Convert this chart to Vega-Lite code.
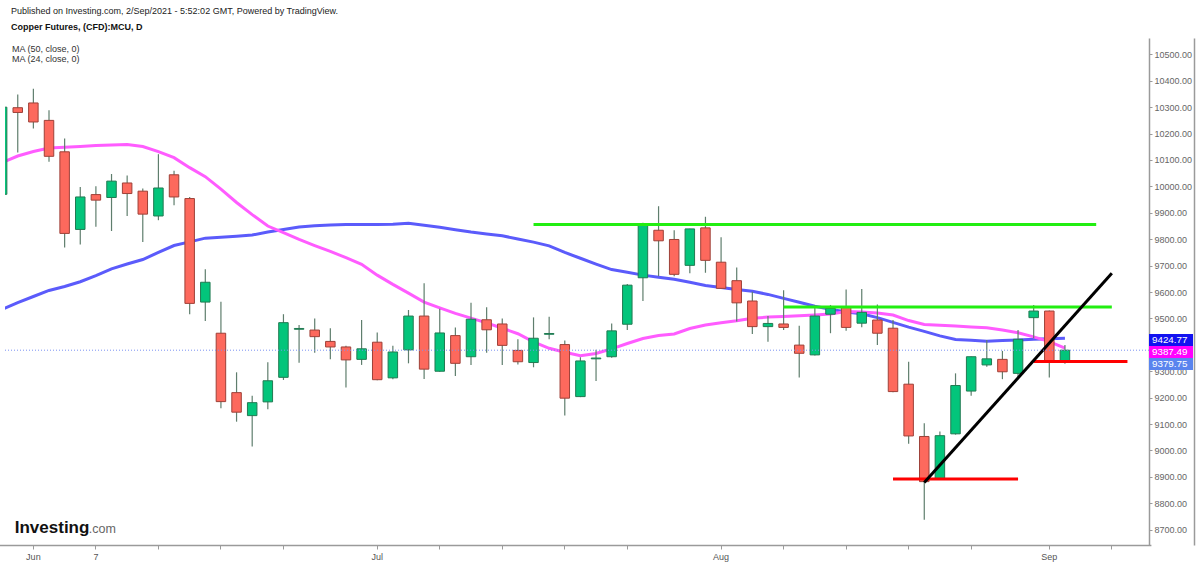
{
  "$schema": "https://vega.github.io/schema/vega-lite/v6.json",
  "width": 1144,
  "height": 507,
  "autosize": {"type": "none"},
  "padding": {"left": 5, "top": 38, "right": 51, "bottom": 21},
  "background": "white",
  "config": {
    "view": {"stroke": null},
    "font": "Liberation Sans",
    "axisY": {"labelOverlap": false, "labelFont": "Liberation Sans", "labelFontSize": 9, "labelColor": "#666", "tickColor": "#9a9a9a", "tickSize": 3, "domainColor": "#9a9a9a", "domainWidth": 1.5, "labelPadding": 2, "grid": false}
  },
  "title": {
    "text": "Published on Investing.com, 2/Sep/2021 - 5:52:02 GMT, Powered by TradingView.",
    "subtitle": "Copper Futures, (CFD):MCU, D",
    "anchor": "start", "frame": "group", "orient": "top", "offset": 6, "dx": 6,
    "font": "Liberation Sans", "fontSize": 9, "fontWeight": "normal", "color": "#222",
    "subtitleFont": "Liberation Sans", "subtitleFontSize": 9, "subtitleFontWeight": "bold", "subtitleColor": "#111", "subtitlePadding": 7
  },
  "datasets": {
    "candles": [
      {"date":"2021-05-27","open":9970,"high":10330,"low":9950,"close":10300,"ma50":9534,"ma24":10090},
      {"date":"2021-05-28","open":10298,"high":10348,"low":10128,"close":10280,"ma50":9560,"ma24":10115},
      {"date":"2021-06-01","open":10316,"high":10370,"low":10219,"close":10244,"ma50":9583,"ma24":10132},
      {"date":"2021-06-02","open":10250,"high":10288,"low":10093,"close":10114,"ma50":9606,"ma24":10145},
      {"date":"2021-06-03","open":10131,"high":10181,"low":9769,"close":9822,"ma50":9621,"ma24":10148},
      {"date":"2021-06-04","open":9837,"high":9998,"low":9780,"close":9960,"ma50":9639,"ma24":10151},
      {"date":"2021-06-07","open":9969,"high":10001,"low":9847,"close":9948,"ma50":9662,"ma24":10155},
      {"date":"2021-06-08","open":9958,"high":10047,"low":9831,"close":10020,"ma50":9688,"ma24":10157},
      {"date":"2021-06-09","open":10013,"high":10041,"low":9888,"close":9973,"ma50":9706,"ma24":10159},
      {"date":"2021-06-10","open":9982,"high":9992,"low":9789,"close":9895,"ma50":9723,"ma24":10151},
      {"date":"2021-06-11","open":9888,"high":10122,"low":9872,"close":9994,"ma50":9750,"ma24":10132},
      {"date":"2021-06-14","open":10044,"high":10059,"low":9929,"close":9960,"ma50":9776,"ma24":10109},
      {"date":"2021-06-15","open":9954,"high":9960,"low":9516,"close":9557,"ma50":9790,"ma24":10071},
      {"date":"2021-06-16","open":9562,"high":9686,"low":9490,"close":9637,"ma50":9804,"ma24":10037},
      {"date":"2021-06-17","open":9444,"high":9563,"low":9160,"close":9185,"ma50":9807,"ma24":9990},
      {"date":"2021-06-18","open":9219,"high":9296,"low":9109,"close":9145,"ma50":9811,"ma24":9939},
      {"date":"2021-06-21","open":9132,"high":9207,"low":9015,"close":9181,"ma50":9816,"ma24":9893},
      {"date":"2021-06-22","open":9184,"high":9334,"low":9156,"close":9264,"ma50":9827,"ma24":9850},
      {"date":"2021-06-23","open":9277,"high":9516,"low":9267,"close":9484,"ma50":9837,"ma24":9825},
      {"date":"2021-06-24","open":9459,"high":9475,"low":9332,"close":9462,"ma50":9846,"ma24":9799},
      {"date":"2021-06-25","open":9456,"high":9500,"low":9370,"close":9431,"ma50":9851,"ma24":9776},
      {"date":"2021-06-28","open":9413,"high":9463,"low":9345,"close":9392,"ma50":9854,"ma24":9754},
      {"date":"2021-06-29","open":9392,"high":9397,"low":9238,"close":9343,"ma50":9856,"ma24":9730},
      {"date":"2021-06-30","open":9345,"high":9494,"low":9324,"close":9385,"ma50":9856,"ma24":9705},
      {"date":"2021-07-01","open":9410,"high":9447,"low":9266,"close":9268,"ma50":9856,"ma24":9664},
      {"date":"2021-07-02","open":9275,"high":9397,"low":9270,"close":9373,"ma50":9857,"ma24":9629},
      {"date":"2021-07-05","open":9381,"high":9532,"low":9330,"close":9509,"ma50":9860,"ma24":9596},
      {"date":"2021-07-06","open":9509,"high":9633,"low":9271,"close":9308,"ma50":9853,"ma24":9562},
      {"date":"2021-07-07","open":9300,"high":9537,"low":9298,"close":9445,"ma50":9845,"ma24":9540},
      {"date":"2021-07-08","open":9435,"high":9466,"low":9282,"close":9330,"ma50":9836,"ma24":9519},
      {"date":"2021-07-09","open":9355,"high":9559,"low":9324,"close":9497,"ma50":9827,"ma24":9501},
      {"date":"2021-07-12","open":9495,"high":9542,"low":9370,"close":9457,"ma50":9820,"ma24":9483},
      {"date":"2021-07-13","open":9479,"high":9500,"low":9324,"close":9398,"ma50":9813,"ma24":9463},
      {"date":"2021-07-14","open":9379,"high":9421,"low":9326,"close":9336,"ma50":9801,"ma24":9442},
      {"date":"2021-07-15","open":9333,"high":9504,"low":9315,"close":9425,"ma50":9789,"ma24":9411},
      {"date":"2021-07-16","open":9440,"high":9506,"low":9421,"close":9443,"ma50":9775,"ma24":9387},
      {"date":"2021-07-19","open":9401,"high":9416,"low":9132,"close":9198,"ma50":9750,"ma24":9372},
      {"date":"2021-07-20","open":9204,"high":9353,"low":9202,"close":9339,"ma50":9728,"ma24":9359},
      {"date":"2021-07-21","open":9347,"high":9381,"low":9263,"close":9350,"ma50":9706,"ma24":9367},
      {"date":"2021-07-22","open":9355,"high":9481,"low":9351,"close":9453,"ma50":9685,"ma24":9385},
      {"date":"2021-07-23","open":9478,"high":9630,"low":9456,"close":9626,"ma50":9675,"ma24":9405},
      {"date":"2021-07-26","open":9654,"high":9862,"low":9566,"close":9853,"ma50":9664,"ma24":9424},
      {"date":"2021-07-27","open":9834,"high":9925,"low":9660,"close":9794,"ma50":9656,"ma24":9435},
      {"date":"2021-07-28","open":9799,"high":9834,"low":9660,"close":9667,"ma50":9648,"ma24":9441},
      {"date":"2021-07-29","open":9701,"high":9840,"low":9671,"close":9839,"ma50":9637,"ma24":9462},
      {"date":"2021-07-30","open":9843,"high":9885,"low":9673,"close":9720,"ma50":9625,"ma24":9475},
      {"date":"2021-08-02","open":9713,"high":9807,"low":9612,"close":9614,"ma50":9617,"ma24":9484},
      {"date":"2021-08-03","open":9643,"high":9693,"low":9488,"close":9559,"ma50":9610,"ma24":9491},
      {"date":"2021-08-04","open":9566,"high":9601,"low":9441,"close":9469,"ma50":9603,"ma24":9501},
      {"date":"2021-08-05","open":9469,"high":9509,"low":9412,"close":9481,"ma50":9591,"ma24":9505},
      {"date":"2021-08-06","open":9479,"high":9607,"low":9456,"close":9466,"ma50":9576,"ma24":9507},
      {"date":"2021-08-09","open":9399,"high":9472,"low":9276,"close":9368,"ma50":9561,"ma24":9510},
      {"date":"2021-08-10","open":9362,"high":9551,"low":9360,"close":9509,"ma50":9546,"ma24":9513},
      {"date":"2021-08-11","open":9516,"high":9551,"low":9444,"close":9538,"ma50":9535,"ma24":9517},
      {"date":"2021-08-12","open":9542,"high":9610,"low":9453,"close":9466,"ma50":9524,"ma24":9526},
      {"date":"2021-08-13","open":9482,"high":9611,"low":9467,"close":9523,"ma50":9518,"ma24":9524},
      {"date":"2021-08-16","open":9494,"high":9553,"low":9399,"close":9444,"ma50":9503,"ma24":9521},
      {"date":"2021-08-17","open":9463,"high":9494,"low":9220,"close":9223,"ma50":9485,"ma24":9513},
      {"date":"2021-08-18","open":9251,"high":9336,"low":9025,"close":9055,"ma50":9467,"ma24":9492},
      {"date":"2021-08-19","open":9053,"high":9103,"low":8738,"close":8882,"ma50":9451,"ma24":9477},
      {"date":"2021-08-20","open":8893,"high":9072,"low":8890,"close":9056,"ma50":9434,"ma24":9474},
      {"date":"2021-08-23","open":9063,"high":9292,"low":9060,"close":9246,"ma50":9420,"ma24":9471},
      {"date":"2021-08-24","open":9225,"high":9356,"low":9207,"close":9355,"ma50":9417,"ma24":9468},
      {"date":"2021-08-25","open":9324,"high":9418,"low":9317,"close":9347,"ma50":9414,"ma24":9465},
      {"date":"2021-08-26","open":9345,"high":9377,"low":9270,"close":9298,"ma50":9416,"ma24":9456},
      {"date":"2021-08-27","open":9292,"high":9456,"low":9277,"close":9421,"ma50":9418,"ma24":9446},
      {"date":"2021-08-31","open":9503,"high":9551,"low":9425,"close":9528,"ma50":9421,"ma24":9430},
      {"date":"2021-09-01","open":9528,"high":9530,"low":9276,"close":9339,"ma50":9423,"ma24":9412},
      {"date":"2021-09-02","open":9339,"high":9399,"low":9328,"close":9379.75,"ma50":9424.77,"ma24":9387.49}
    ]
  },
  "layer": [
    {
      "encoding": {
        "x": {
          "field": "date", "type": "ordinal", "title": null,
          "scale": {
            "type": "band",
            "domain": ["2021-05-27","2021-05-28","2021-06-01","2021-06-02","2021-06-03","2021-06-04","2021-06-07","2021-06-08","2021-06-09","2021-06-10","2021-06-11","2021-06-14","2021-06-15","2021-06-16","2021-06-17","2021-06-18","2021-06-21","2021-06-22","2021-06-23","2021-06-24","2021-06-25","2021-06-28","2021-06-29","2021-06-30","2021-07-01","2021-07-02","2021-07-05","2021-07-06","2021-07-07","2021-07-08","2021-07-09","2021-07-12","2021-07-13","2021-07-14","2021-07-15","2021-07-16","2021-07-19","2021-07-20","2021-07-21","2021-07-22","2021-07-23","2021-07-26","2021-07-27","2021-07-28","2021-07-29","2021-07-30","2021-08-02","2021-08-03","2021-08-04","2021-08-05","2021-08-06","2021-08-09","2021-08-10","2021-08-11","2021-08-12","2021-08-13","2021-08-16","2021-08-17","2021-08-18","2021-08-19","2021-08-20","2021-08-23","2021-08-24","2021-08-25","2021-08-26","2021-08-27","2021-08-31","2021-09-01","2021-09-02","2021-09-03","2021-09-06","2021-09-07","2021-09-08","2021-09-09"],
            "range": [-10.7, 1145.9],
            "paddingInner": 0, "paddingOuter": 0
          },
          "axis": {
            "values": ["2021-06-01","2021-06-07","2021-06-11","2021-06-17","2021-06-23","2021-07-01","2021-07-07","2021-07-13","2021-07-19","2021-07-23","2021-08-02","2021-08-06","2021-08-12","2021-08-18","2021-08-24","2021-09-01","2021-09-07"],
            "labelExpr": "datum.value == '2021-06-01' ? 'Jun' : datum.value == '2021-06-07' ? '7' : datum.value == '2021-07-01' ? 'Jul' : datum.value == '2021-08-02' ? 'Aug' : datum.value == '2021-09-01' ? 'Sep' : ''",
            "bandPosition": 0.5, "domainColor": "#9a9a9a", "domainWidth": 1.5,
            "tickColor": "#9a9a9a", "tickSize": 4, "tickWidth": 1,
            "labelFont": "Liberation Sans", "labelFontSize": 9, "labelColor": "#555",
            "labelPadding": 3, "labelAngle": 0, "labelOverlap": false, "grid": false,
            "labelBound": false, "labelFlush": false
          }
        },
        "y": {
          "field": "low", "type": "quantitative", "title": null,
          "scale": {"domain": [8642, 10562], "nice": false, "zero": false},
          "axis": {
            "orient": "right",
            "values": [8700,8800,8900,9000,9100,9200,9300,9400,9500,9600,9700,9800,9900,10000,10100,10200,10300,10400,10500],
            "format": ".2f", "labelOverlap": false,
            "labelExpr": "datum.value == 9400 ? '' : datum.label"
          }
        }
      },
      "layer": [
        {
          "data": {"name": "candles"},
          "transform": [{"fold": ["ma50", "ma24"], "as": ["ma", "value"]}],
          "mark": {"type": "line", "strokeWidth": 3, "clip": true},
          "encoding": {
            "y": {"field": "value", "type": "quantitative"},
            "color": {
              "field": "ma", "type": "nominal",
              "scale": {"domain": ["ma50", "ma24"], "range": ["#5b5bfb", "#ff5cff"]},
              "legend": {
                "title": null, "orient": "top-left", "offset": 6, "padding": 0,
                "symbolSize": 0, "symbolOpacity": 0, "symbolStrokeWidth": 0,
                "labelFont": "Liberation Sans", "labelFontSize": 9, "labelColor": "#333",
                "labelOffset": -8, "rowPadding": 0,
                "labelExpr": "datum.value == 'ma50' ? 'MA (50, close, 0)' : 'MA (24, close, 0)'"
              }
            },
            "detail": {"field": "ma"}
          }
        },
        {
          "data": {"name": "candles"},
          "mark": {"type": "rule", "color": "#5f7e6d", "strokeWidth": 1.2, "clip": true},
          "encoding": {
            "y2": {"field": "high"}
          }
        },
        {
          "data": {"name": "candles"},
          "mark": {"type": "bar", "width": 9.5, "strokeWidth": 1, "clip": true},
          "encoding": {
            "y": {"field": "open", "type": "quantitative"},
            "y2": {"field": "close"},
            "fill": {"condition": {"test": "datum.close > datum.open", "value": "#03c57b"}, "value": "#fd695d"},
            "stroke": {"condition": {"test": "datum.close > datum.open", "value": "#227a52"}, "value": "#9e4038"}
          }
        },
        {
          "data": {"values": [
            {"date": "2021-07-15", "end": "2021-09-06", "price": 9856},
            {"date": "2021-08-06", "end": "2021-09-07", "price": 9543}
          ]},
          "mark": {"type": "rule", "color": "#22ee11", "strokeWidth": 3},
          "encoding": {
            "x2": {"field": "end"},
            "y": {"field": "price", "type": "quantitative"}
          }
        },
        {
          "data": {"values": [
            {"date": "2021-08-17", "end": "2021-08-27", "price": 8892},
            {"date": "2021-08-31", "end": "2021-09-08", "price": 9337}
          ]},
          "mark": {"type": "rule", "color": "#ff0000", "strokeWidth": 3},
          "encoding": {
            "x2": {"field": "end"},
            "y": {"field": "price", "type": "quantitative"}
          }
        },
        {
          "data": {"values": [
            {"date": "2021-08-19", "end": "2021-09-07", "price": 8879, "price2": 9671}
          ]},
          "mark": {"type": "rule", "color": "#000000", "strokeWidth": 3},
          "encoding": {
            "x2": {"field": "end"},
            "y": {"field": "price", "type": "quantitative"},
            "y2": {"field": "price2"}
          }
        },
        {
          "data": {"values": [{"date": "2021-05-28", "price": 8687, "text": "Investing"}]},
          "mark": {"type": "text", "align": "left", "baseline": "alphabetic", "dx": -3, "font": "Liberation Sans", "fontWeight": "bold", "fontSize": 17, "color": "#111"},
          "encoding": {
            "y": {"field": "price", "type": "quantitative"},
            "text": {"field": "text"}
          }
        },
        {
          "data": {"values": [{"date": "2021-05-28", "price": 8687, "text": ".com"}]},
          "mark": {"type": "text", "align": "left", "baseline": "alphabetic", "dx": 71, "font": "Liberation Sans", "fontSize": 12.5, "color": "#666"},
          "encoding": {
            "y": {"field": "price", "type": "quantitative"},
            "text": {"field": "text"}
          }
        }
      ]
    },
    {
      "encoding": {
        "y": {
          "field": "price", "type": "quantitative", "title": null,
          "scale": {"domain": [8642, 10562], "nice": false, "zero": false},
          "axis": {"orient": "right", "offset": 45, "labels": false, "ticks": false}
        }
      },
      "layer": [
        {
          "data": {"values": [{"price": 9379.75}]},
          "mark": {"type": "rule", "color": "#7a92f2", "strokeWidth": 1, "strokeDash": [1, 2]}
        },
        {
          "data": {"values": [{"price": 9424.77, "label": "9424.77"}]},
          "mark": {"type": "point", "shape": "M0,-0.1955L2,-0.1955L2,0.35L0,0.35Z", "size": 1936, "filled": true, "opacity": 1, "strokeWidth": 0, "color": "#1212f0", "clip": false},
          "encoding": {"x": {"value": "width"}}
        },
        {
          "data": {"values": [{"price": 9387.49, "label": "9387.49"}]},
          "mark": {"type": "point", "shape": "M0,-0.0955L2,-0.0955L2,0.45L0,0.45Z", "size": 1936, "filled": true, "opacity": 1, "strokeWidth": 0, "color": "#ff00ff", "clip": false},
          "encoding": {"x": {"value": "width"}}
        },
        {
          "data": {"values": [{"price": 9379.75, "label": "9379.75"}]},
          "mark": {"type": "point", "shape": "M0,0.3545L2,0.3545L2,0.9L0,0.9Z", "size": 1936, "filled": true, "opacity": 1, "strokeWidth": 0, "color": "#5a84ee", "clip": false},
          "encoding": {"x": {"value": "width"}}
        },
        {
          "data": {"values": [{"price": 9424.77, "label": "9424.77"}]},
          "mark": {"type": "text", "align": "left", "baseline": "middle", "dx": 3, "dy": 1.7, "fontSize": 9.8, "font": "Liberation Sans", "color": "white"},
          "encoding": {"x": {"value": "width"}, "text": {"field": "label"}}
        },
        {
          "data": {"values": [{"price": 9387.49, "label": "9387.49"}]},
          "mark": {"type": "text", "align": "left", "baseline": "middle", "dx": 3, "dy": 3.9, "fontSize": 9.8, "font": "Liberation Sans", "color": "white"},
          "encoding": {"x": {"value": "width"}, "text": {"field": "label"}}
        },
        {
          "data": {"values": [{"price": 9379.75, "label": "9379.75"}]},
          "mark": {"type": "text", "align": "left", "baseline": "middle", "dx": 3, "dy": 13.8, "fontSize": 9.8, "font": "Liberation Sans", "color": "white"},
          "encoding": {"x": {"value": "width"}, "text": {"field": "label"}}
        }
      ]
    }
  ],
  "resolve": {"scale": {"y": "independent"}, "axis": {"y": "independent"}}
}
